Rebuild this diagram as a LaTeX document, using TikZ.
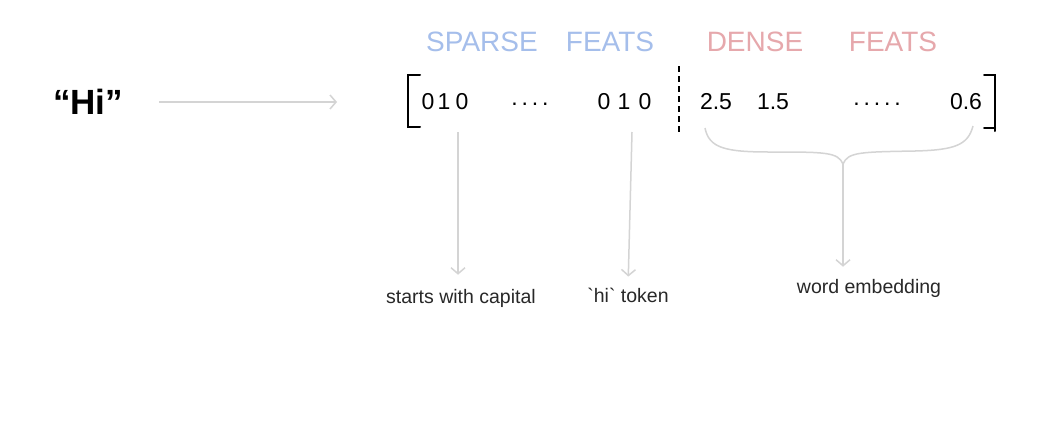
\documentclass[tikz,border=0pt]{standalone}
\usepackage{fontspec}
\setmainfont{Liberation Sans}
\usetikzlibrary{arrows.meta}
\tikzstyle{canvas} = [x = 1pt, y = -1pt]
\definecolor{sparseColor}{RGB}{165,190,235}
\definecolor{denseColor}{RGB}{230,168,172}
\definecolor{arrowColor}{RGB}{212,212,212}
\definecolor{labelColor}{RGB}{40,40,40}
\tikzstyle{featHead} = [font=\fontsize{28}{28}\selectfont, inner sep=0pt]
\tikzstyle{entry} = [font=\fontsize{23}{23}\selectfont, inner sep=0pt]
\tikzstyle{labelText} = [font=\fontsize{19.5}{19.5}\selectfont, color=labelColor, inner sep=0pt]
\tikzstyle{lightArrow} = [color=arrowColor, line width=1.5pt, -{Straight Barb[length=6pt, width=14pt]}]
\tikzstyle{bracketLine} = [line width=2pt, line cap=round]
\newcommand{\entryNode}[3]{\node [entry] (#1) at (#2, 102) {#3};}
\newcommand{\dotsNode}[3]{\node [entry] (#1) at (#2, 104) {#3};}

\begin{document}
\begin{tikzpicture}[canvas]
  \useasboundingbox [fill=white] (0,0) rectangle (1064,432);

  % headings
  \node [featHead, color=sparseColor] (sparseWord) at (482,42) {SPARSE};
  \node [featHead, color=sparseColor] (sparseFeats) at (610,42) {FEATS};
  \node [featHead, color=denseColor] (denseWord) at (755,42) {DENSE};
  \node [featHead, color=denseColor] (denseFeats) at (893,42) {FEATS};

  % input word
  \node [font=\bfseries\fontsize{35}{35}\selectfont, inner sep=0pt] (hiWord) at (88,102) {“Hi”};
  \coordinate (vecLeft) at (337,102);
  \draw [lightArrow, shorten <=36pt] (hiWord.east) -- (vecLeft);

  % vector
  \draw [bracketLine] (420,75) -- (408,75) -- (408,127) -- (420,127);
  \draw [bracketLine] (984,75) -- (995,75) -- (995,131);
  \draw [bracketLine] (984,128) -- (995,128);
  \entryNode{sparseA}{428}{0}
  \entryNode{sparseB}{444}{1}
  \entryNode{sparseC}{462}{0}
  \dotsNode{sparseDots}{530}{.\,.\,.\,.}
  \entryNode{sparseD}{604}{0}
  \entryNode{sparseE}{624}{1}
  \entryNode{sparseF}{645}{0}
  \draw [line width=1.8pt, dash pattern=on 6pt off 4pt] (679,66) -- (679,132);
  \entryNode{denseA}{716}{2.5}
  \entryNode{denseB}{773}{1.5}
  \dotsNode{denseDots}{877}{.\,.\,.\,.\,.}
  \entryNode{denseC}{966}{0.6}

  % labels
  \node [labelText] (capLabel) at (461,298) {starts with capital};
  \node [labelText] (tokenLabel) at (628,295) {\textasciigrave hi\textasciigrave{} token};
  \node [labelText] (embedLabel) at (869,288) {word embedding};

  \coordinate (capTop) at (458,132);
  \coordinate (tokenTop) at (632,132);
  \draw [lightArrow, shorten >=14pt] (capTop) -- (capLabel.north -| capTop);
  \draw [lightArrow, shorten >=11pt] (tokenTop) -- (tokenLabel.north);

  % brace over dense part
  \coordinate (braceTip) at (843,164);
  \draw [color=arrowColor, line width=1.5pt]
    (705,128) .. controls (709,148) and (725,152) .. (770,152)
    .. controls (825,152) and (838,152) .. (braceTip)
    .. controls (848,152) and (860,152) .. (915,151)
    .. controls (955,150) and (968,145) .. (973,126);
  \draw [lightArrow, shorten >=12pt] (braceTip) -- (embedLabel.north -| braceTip);
\end{tikzpicture}
\end{document}
